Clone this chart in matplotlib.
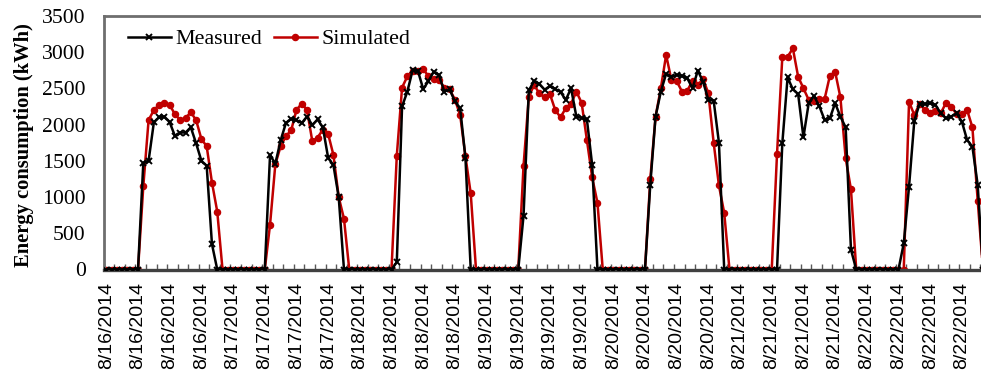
import numpy as np
import matplotlib.pyplot as plt
from matplotlib.ticker import FixedLocator

# hourly values per day (kWh)
m16 = [0, 0, 0, 0, 0, 0, 0, 1470, 1500, 2030, 2100, 2110, 2030, 1840, 1890, 1890, 1960, 1740, 1500, 1430, 350, 0, 0, 0]
s16 = [0, 0, 0, 0, 0, 0, 0, 1150, 2060, 2200, 2270, 2300, 2270, 2140, 2060, 2090, 2170, 2060, 1800, 1700, 1200, 800, 0, 0]
m17 = [0, 0, 0, 0, 0, 0, 0, 1580, 1460, 1780, 2020, 2080, 2060, 2020, 2110, 1990, 2070, 1960, 1540, 1440, 1000, 0, 0, 0]
s17 = [0, 0, 0, 0, 0, 0, 0, 620, 1450, 1700, 1840, 1920, 2200, 2290, 2200, 1770, 1820, 1930, 1870, 1580, 1000, 700, 0, 0]
m18 = [0, 0, 0, 0, 0, 0, 0, 100, 2250, 2455, 2750, 2740, 2490, 2600, 2730, 2680, 2455, 2485, 2320, 2225, 1540, 0, 0, 0]
s18 = [0, 0, 0, 0, 0, 0, 0, 1570, 2510, 2665, 2745, 2740, 2760, 2670, 2625, 2615, 2510, 2485, 2345, 2130, 1560, 1050, 0, 0]
m19 = [0, 0, 0, 0, 0, 0, 0, 740, 2470, 2600, 2560, 2480, 2530, 2490, 2450, 2340, 2500, 2110, 2090, 2070, 1440, 0, 0, 0]
s19 = [0, 0, 0, 0, 0, 0, 0, 1430, 2385, 2545, 2430, 2375, 2420, 2200, 2100, 2225, 2285, 2455, 2300, 1790, 1270, 920, 0, 0]
m20 = [0, 0, 0, 0, 0, 0, 0, 1170, 2110, 2455, 2700, 2660, 2685, 2670, 2640, 2500, 2745, 2590, 2340, 2330, 1750, 0, 0, 0]
s20 = [0, 0, 0, 0, 0, 0, 0, 1245, 2110, 2500, 2960, 2615, 2600, 2455, 2465, 2605, 2545, 2630, 2430, 1750, 1160, 780, 0, 0]
m21 = [0, 0, 0, 0, 0, 0, 0, 0, 1740, 2650, 2485, 2420, 1825, 2295, 2395, 2255, 2065, 2085, 2295, 2110, 1960, 275, 0, 0]
s21 = [0, 0, 0, 0, 0, 0, 0, 1595, 2925, 2935, 3050, 2660, 2500, 2340, 2330, 2350, 2350, 2670, 2730, 2375, 1535, 1105, 0, 0]
m22 = [0, 0, 0, 0, 0, 0, 0, 360, 1145, 2055, 2285, 2285, 2295, 2270, 2155, 2085, 2110, 2155, 2040, 1785, 1695, 1165, 0, 0]
s22 = [0, 0, 0, 0, 0, 0, 0, 0, 2315, 2130, 2290, 2200, 2155, 2180, 2155, 2300, 2245, 2145, 2140, 2200, 1960, 950, 0, 0]

days = ['8/16/2014', '8/17/2014', '8/18/2014', '8/19/2014',
        '8/20/2014', '8/21/2014', '8/22/2014']

measured = np.concatenate([m16, m17, m18, m19, m20, m21, m22])
simulated = np.concatenate([s16, s17, s18, s19, s20, s21, s22])
hours = np.arange(len(measured))

fig = plt.figure(figsize=(9.81, 3.80), dpi=100)
# right edge of the axes runs slightly past the image, like the source
ax = fig.add_axes([103.7 / 981, 1 - 269.5 / 380, 887.2 / 981, 253.7 / 380])

ax.plot(hours, measured, color='black', lw=1.8, marker='x',
        markersize=4.8, mew=1.4, label='Measured', zorder=3)
ax.plot(hours, simulated, color='#C00000', lw=1.8, marker='o',
        markersize=4.4, label='Simulated', zorder=2)

ax.set_xlim(-0.5, len(hours) - 0.5)
ax.set_ylim(0, 3500)
ax.set_yticks(np.arange(0, 3501, 500))

# date label every 6 hours, small inside ticks every 2 hours
label_pos = np.arange(0, len(hours), 6)
ax.set_xticks(label_pos)
ax.set_xticklabels([days[p // 24] for p in label_pos], rotation=90,
                   fontsize=14, family='Liberation Sans', color='black')
ax.tick_params(axis='x', which='major', length=0, pad=9)
ax.xaxis.set_minor_locator(FixedLocator(np.arange(-0.5, len(hours), 2)))
ax.tick_params(axis='x', which='minor', direction='in', length=4,
               width=1, color='#595959')
ax.tick_params(axis='y', length=0, pad=13)
for t in ax.get_yticklabels():
    t.set_family('Liberation Serif')
    t.set_fontsize(15.6)

ax.set_ylabel('Energy consumption (kWh)', family='Liberation Serif',
              fontsize=14.8, fontweight='bold')
ax.yaxis.set_label_coords(-0.078, 0.49)

for side in ['left', 'top', 'right']:
    ax.spines[side].set_color('#6e6e6e')
    ax.spines[side].set_linewidth(2)
ax.spines['bottom'].set_color('#404040')
ax.spines['bottom'].set_linewidth(2.4)

ax.legend(loc='upper left', bbox_to_anchor=(0.012, 1.0), ncol=2, frameon=False,
          prop={'family': 'Liberation Serif', 'size': 15.8},
          handlelength=2.0, handletextpad=0.2, columnspacing=0.5,
          borderaxespad=0.2)

fig.savefig('out.png', dpi=100)
